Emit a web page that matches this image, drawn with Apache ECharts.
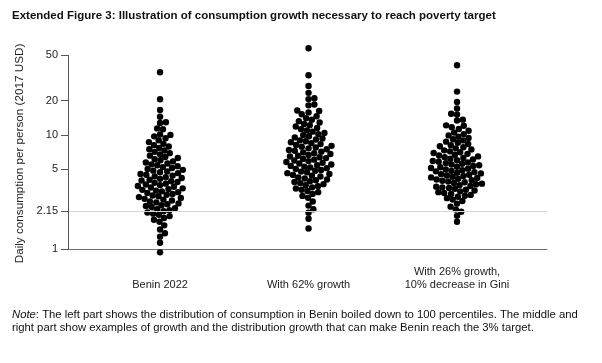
<!DOCTYPE html>
<html>
<head>
<meta charset="utf-8">
<script src="https://cdn.jsdelivr.net/npm/echarts@6/dist/echarts.min.js"></script>
<style>
html,body{margin:0;padding:0;background:#fff;}
#main{width:602px;height:363px;}
</style>
</head>
<body>
<div id="main"></div>
<script>
// ---- data (daily consumption per person, 2017 USD; 100 percentiles each) ----
const categories = ['Benin 2022', 'With 62% growth', 'With 26% growth,\n10% decrease in Gini'];

const benin2022 = [
  0.94,1.14,1.29,1.38,1.49,1.62,1.74,1.81,1.88,1.95,
  2.00,2.05,2.10,2.15,2.20,2.24,2.29,2.34,2.39,2.43,
  2.48,2.52,2.57,2.62,2.67,2.72,2.76,2.81,2.86,2.91,
  2.95,3.00,3.05,3.11,3.16,3.21,3.26,3.31,3.36,3.41,
  3.47,3.52,3.58,3.64,3.69,3.75,3.81,3.87,3.93,4.00,
  4.06,4.13,4.20,4.27,4.34,4.41,4.48,4.56,4.63,4.71,
  4.79,4.87,4.95,5.04,5.13,5.23,5.33,5.43,5.53,5.63,
  5.74,5.87,6.00,6.14,6.28,6.42,6.59,6.76,6.93,7.11,
  7.30,7.49,7.70,7.92,8.14,8.37,8.65,8.99,9.35,9.71,
  10.0,10.1,11.2,11.4,12.7,12.9,14.4,16.5,20.5,35.3
];

const growth62 = [
  1.52,1.85,2.09,2.24,2.41,2.62,2.82,2.93,3.05,3.16,
  3.24,3.32,3.40,3.48,3.56,3.63,3.71,3.79,3.87,3.94,
  4.02,4.08,4.16,4.24,4.33,4.41,4.47,4.55,4.63,4.71,
  4.78,4.86,4.94,5.04,5.12,5.20,5.28,5.36,5.44,5.52,
  5.62,5.70,5.80,5.90,5.98,6.08,6.17,6.27,6.37,6.48,
  6.58,6.69,6.80,6.92,7.03,7.14,7.26,7.39,7.50,7.63,
  7.76,7.89,8.02,8.16,8.31,8.47,8.63,8.80,8.96,9.12,
  9.30,9.51,9.72,9.95,10.17,10.40,10.68,10.95,11.23,11.52,
  11.83,12.13,12.47,12.83,13.19,13.56,14.01,14.56,15.15,15.73,
  16.20,16.36,18.14,18.47,20.57,20.90,23.33,26.73,33.21,57.19
];

const growth26Gini = [
  1.74,1.96,2.13,2.23,2.36,2.51,2.64,2.72,2.80,2.88,
  2.94,2.99,3.05,3.11,3.16,3.21,3.27,3.32,3.38,3.43,
  3.48,3.53,3.58,3.64,3.70,3.75,3.80,3.86,3.91,3.97,
  4.02,4.07,4.13,4.20,4.25,4.31,4.37,4.42,4.48,4.54,
  4.61,4.66,4.73,4.80,4.85,4.92,4.99,5.06,5.13,5.21,
  5.27,5.35,5.43,5.51,5.59,5.67,5.75,5.84,5.92,6.01,
  6.10,6.19,6.28,6.39,6.49,6.60,6.71,6.83,6.94,7.05,
  7.18,7.33,7.47,7.63,7.79,7.95,8.14,8.34,8.53,8.73,
  8.95,9.16,9.40,9.65,9.90,10.16,10.48,10.86,11.27,11.68,
  12.01,12.12,13.37,13.60,15.07,15.30,17.00,19.38,23.92,40.70
];

const yTickValues = [1, 2.15, 5, 10, 20, 50];
const yTickLabels = ['1', '2.15', '5', '10', '20', '50'];
const povertyLine = 2.15;

// ---- layout ----
const GRID = { left: 68, right: 55, top: 44, height: 219 };
const GRID_W = 602 - GRID.left - GRID.right;
const X_MIN = 0.38, X_MAX = 3.606;
const Y_MIN = -0.1198, Y_MAX = 1.7948;   // log10 extent
const DOT = 6.4, SPACING = 5.9;

const lg = v => Math.log10(v);

// beeswarm layout (pixel-space collision avoidance, converted back to axis units)
function swarm(values, center) {
  const pxPerX = GRID_W / (X_MAX - X_MIN);
  const pxPerY = GRID.height / (Y_MAX - Y_MIN);
  const pts = values.map((v, i) => ({ i, v, y: (lg(v) - Y_MIN) * pxPerY, x: 0 }));
  const order = pts.slice().sort((a, b) => a.y - b.y);
  const placed = [];
  const D2 = SPACING * SPACING;
  for (const p of order) {
    const cands = [0];
    for (const q of placed) {
      const dy = p.y - q.y;
      if (Math.abs(dy) < SPACING) {
        const dx = Math.sqrt(D2 - dy * dy);
        cands.push(q.x + dx, q.x - dx);
      }
    }
    let best = null;
    for (const c of cands) {
      let ok = true;
      for (const q of placed) {
        const ddx = c - q.x, ddy = p.y - q.y;
        if (ddx * ddx + ddy * ddy < D2 - 1e-6) { ok = false; break; }
      }
      if (ok && (best === null || Math.abs(c) < Math.abs(best) - 1e-9)) best = c;
    }
    p.x = best;
    placed.push(p);
  }
  return pts.map(p => [center + p.x / pxPerX, lg(p.v)]);
}

const groups = [benin2022, growth62, growth26Gini];
const FONT = 'Liberation Sans, Arial, sans-serif';

const chart = echarts.init(document.getElementById('main'), null, { renderer: 'canvas' });

const scatterSeries = groups.map((g, k) => ({
  type: 'scatter',
  name: categories[k],
  data: swarm(g, k + 1),
  symbolSize: DOT,
  itemStyle: { color: '#000', opacity: 1 },
  z: 3,
  silent: true
}));

chart.setOption({
  animation: false,
  title: {
    text: 'Extended Figure 3: Illustration of consumption growth necessary to reach poverty target',
    left: 12, top: 10, padding: 0,
    textStyle: { fontFamily: FONT, fontSize: 11.5, fontWeight: 'bold', color: '#111' }
  },
  grid: { left: GRID.left, right: GRID.right, top: GRID.top, height: GRID.height },
  xAxis: {
    type: 'value', min: X_MIN, max: X_MAX,
    axisLine: { show: true, lineStyle: { color: '#6e6e6e', width: 1 } },
    axisTick: { show: false },
    splitLine: { show: false },
    axisLabel: {
      customValues: [1, 2, 3],
      formatter: v => categories[Math.round(v) - 1] || '',
      verticalAlign: 'bottom',
      margin: 29,
      lineHeight: 13.5,
      fontFamily: FONT, fontSize: 11, color: '#222'
    }
  },
  yAxis: {
    type: 'value', min: Y_MIN, max: Y_MAX,
    name: 'Daily consumption per person (2017 USD)',
    nameLocation: 'middle', nameGap: 42, nameRotate: 90,
    nameTextStyle: { fontFamily: FONT, fontSize: 11.7, color: '#222' },
    axisLine: { show: false },
    axisTick: {
      show: true, inside: false, length: 7,
      customValues: yTickValues.map(lg),
      lineStyle: { color: '#555' }
    },
    splitLine: { show: false },
    axisLabel: {
      customValues: yTickValues.map(lg),
      formatter: v => {
        let best = 0;
        yTickValues.forEach((t, i) => { if (Math.abs(lg(t) - v) < Math.abs(lg(yTickValues[best]) - v)) best = i; });
        return yTickLabels[best];
      },
      margin: 10,
      fontFamily: FONT, fontSize: 11, color: '#222'
    }
  },
  graphic: [{
    type: 'text', left: 12, top: 308,
    style: {
      text: '{i|Note}: The left part shows the distribution of consumption in Benin boiled down to 100 percentiles. The middle and\nright part show examples of growth and the distribution growth that can make Benin reach the 3% target.',
      font: '11.3px ' + FONT,
      fill: '#111',
      lineHeight: 13.5,
      rich: { i: { fontStyle: 'italic', fontFamily: FONT, fontSize: 11.3, fill: '#111' } }
    }
  }],
  series: [{
    type: 'scatter', data: [], z: 1, silent: true,
    markLine: {
      silent: true, symbol: 'none', animation: false,
      label: { show: false },
      data: [
        [{ coord: [X_MIN, lg(povertyLine)], lineStyle: { color: '#d4d4d4', width: 1, type: 'solid' } },
         { coord: [X_MAX, lg(povertyLine)] }],
        [{ coord: [X_MIN, lg(yTickValues[0])], lineStyle: { color: '#555', width: 1, type: 'solid' } },
         { coord: [X_MIN, lg(yTickValues[yTickValues.length - 1])] }]
      ]
    }
  }].concat(scatterSeries)
});
</script>
</body>
</html>
